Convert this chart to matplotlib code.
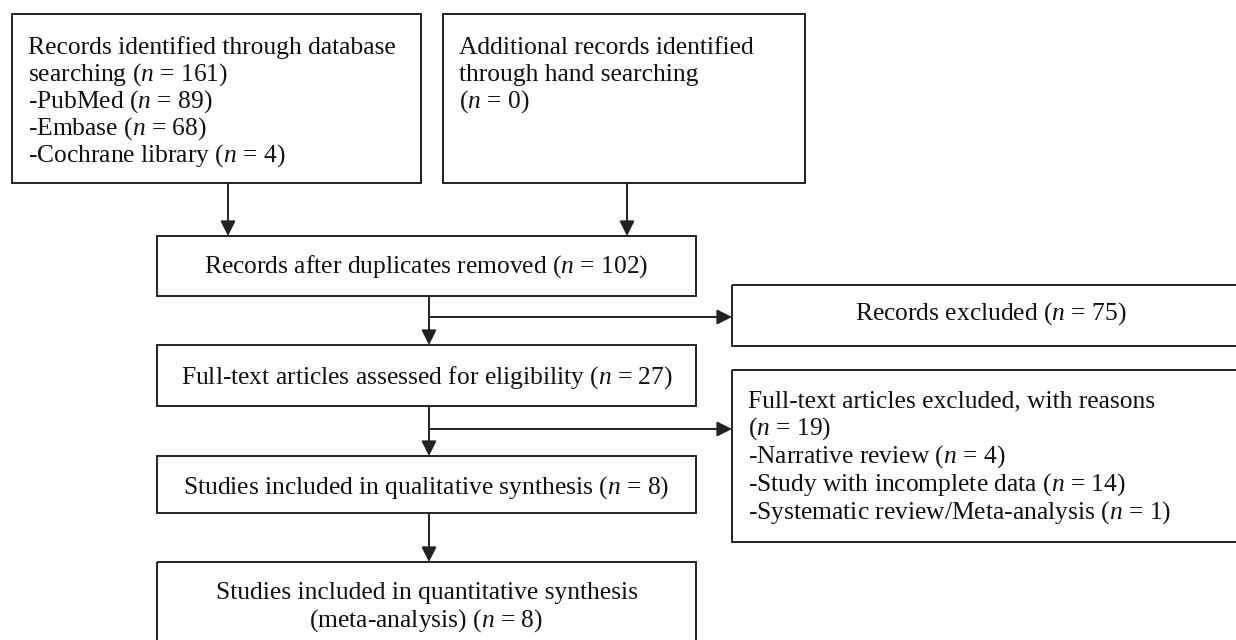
import matplotlib.pyplot as plt
from matplotlib.patches import Rectangle, FancyArrowPatch

# counts shown in the flow diagram
db_total = 161
db_sources = ["PubMed", "Embase", "Cochrane library"]
db_counts = [89, 68, 4]
hand_total = 0
after_duplicates = 102
records_excluded = 75
fulltext_assessed = 27
fulltext_excluded = 19
exclusion_reasons = ["Narrative review", "Study with incomplete data", "Systematic review/Meta-analysis"]
exclusion_counts = [4, 14, 1]
qualitative_n = 8
quantitative_n = 8

plt.rcParams["font.family"] = ["Liberation Serif", "DejaVu Serif"]
plt.rcParams["mathtext.fontset"] = "custom"
plt.rcParams["mathtext.rm"] = "Liberation Serif"
plt.rcParams["mathtext.it"] = "Liberation Serif:italic"

FS = 18.4
LINE = "#222222"


def n_txt(v):
    return "($n$ = %d)" % v


# boxes as (left, top, right, bottom) in pixel space
boxes = {
    "db": (12, 14, 421, 183),
    "hand": (443, 14, 805, 183),
    "dup": (157, 236, 696, 296),
    "rec_ex": (732, 285, 1250, 346),
    "full": (157, 345, 696, 406),
    "full_ex": (732, 370, 1250, 542),
    "qual": (157, 456, 696, 513),
    "quant": (157, 562, 696, 650),
}

fig = plt.figure(figsize=(12.36, 6.4), dpi=100)
ax = fig.add_axes([0, 0, 1, 1])
ax.set_xlim(0, 1236)
ax.set_ylim(640, 0)
ax.axis("off")

for name, (l, t, r, b) in boxes.items():
    ax.add_patch(Rectangle((l, t), r - l, b - t, fill=False, edgecolor=LINE, linewidth=1.4))


def left_lines(box, lines, first, step):
    l, t, r, b = boxes[box]
    for i, s in enumerate(lines):
        ax.text(l + 16, t + first + i * step, s, fontsize=FS, ha="left", va="baseline", color="#111111")


def center_lines(box, lines, first, step=28):
    l, t, r, b = boxes[box]
    for i, s in enumerate(lines):
        ax.text((l + r) / 2, t + first + i * step, s, fontsize=FS, ha="center", va="baseline", color="#111111")


db_lines = ["Records identified through database", "searching " + n_txt(db_total)]
db_lines += ["-%s %s" % (s, n_txt(c)) for s, c in zip(db_sources, db_counts)]
left_lines("db", db_lines, 40, 27)

left_lines("hand", ["Additional records identified", "through hand searching", n_txt(hand_total)], 40, 27)

center_lines("dup", ["Records after duplicates removed " + n_txt(after_duplicates)], 37)
center_lines("rec_ex", ["Records excluded " + n_txt(records_excluded)], 35)
center_lines("full", ["Full-text articles assessed for eligibility " + n_txt(fulltext_assessed)], 39)

fe_lines = ["Full-text articles excluded, with reasons", n_txt(fulltext_excluded)]
fe_lines += ["-%s %s" % (s, n_txt(c)) for s, c in zip(exclusion_reasons, exclusion_counts)]
left_lines("full_ex", fe_lines, 37, 28)

center_lines("qual", ["Studies included in qualitative synthesis " + n_txt(qualitative_n)], 38)
center_lines("quant", ["Studies included in quantitative synthesis", "(meta-analysis) " + n_txt(quantitative_n)], 37)


def arrow(x0, y0, x1, y1):
    ax.add_patch(FancyArrowPatch((x0, y0), (x1, y1), arrowstyle="-|>,head_length=0.6,head_width=0.3",
                                 mutation_scale=15, color=LINE, linewidth=1.4, shrinkA=0, shrinkB=0))


spine_x = 429
arrow(228, boxes["db"][3], 228, boxes["dup"][1])
arrow(627, boxes["hand"][3], 627, boxes["dup"][1])
arrow(spine_x, boxes["dup"][3], spine_x, boxes["full"][1])
arrow(spine_x, 317, boxes["rec_ex"][0], 317)
arrow(spine_x, boxes["full"][3], spine_x, boxes["qual"][1])
arrow(spine_x, 429, boxes["full_ex"][0], 429)
arrow(spine_x, boxes["qual"][3], spine_x, boxes["quant"][1])

plt.savefig("out.png", dpi=100, facecolor="white")
plt.close()
